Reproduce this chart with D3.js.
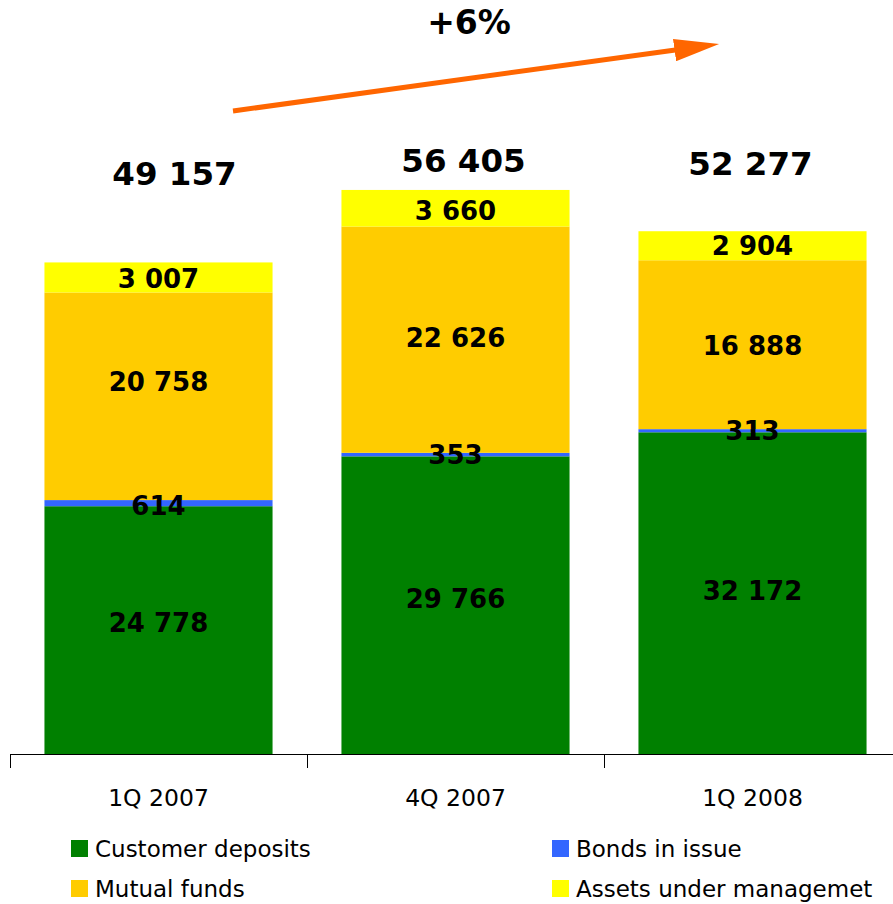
<!DOCTYPE html>
<html>
<head>
<meta charset="utf-8">
<script src="https://cdn.jsdelivr.net/npm/d3@7"></script>
<style>
  html, body { margin: 0; padding: 0; background: #fff; }
  svg { display: block; font-family: "DejaVu Sans", Verdana, sans-serif; }
</style>
</head>
<body>
<svg id="chart" width="893" height="904"></svg>
<script>
// Quarters on the x axis
const quarters = ["1Q 2007", "4Q 2007", "1Q 2008"];

// Stacked series, bottom to top
const customerDeposits = [24778, 29766, 32172];
const bondsInIssue     = [614, 353, 313];
const mutualFunds      = [20758, 22626, 16888];
const assetsUnderMgmt  = [3007, 3660, 2904];

// Totals written above each bar
const totals = [49157, 56405, 52277];

const seriesNames = ["Customer deposits", "Bonds in issue", "Mutual funds", "Assets under managemet"];
const seriesColors = ["#008000", "#3366FF", "#FFCC00", "#FFFF00"];

const growthLabel = "+6%";

const svg = d3.select("#chart");
const W = 893, H = 904;
const baseY = 754;

const x = d3.scaleBand()
  .domain(quarters)
  .range([10, 901])
  .paddingInner(0.232)
  .paddingOuter(0.116);

const y = d3.scaleLinear()
  .domain([0, 75400])
  .range([baseY, 0]);

const rows = quarters.map((q, i) => ({
  q,
  s0: customerDeposits[i],
  s1: bondsInIssue[i],
  s2: mutualFunds[i],
  s3: assetsUnderMgmt[i]
}));

const stack = d3.stack().keys(["s0", "s1", "s2", "s3"]);
const layers = stack(rows);

const fmt = v => d3.format(",")(v).replace(/,/g, " ");

// Vertical nudges for the in-bar labels (px), per series then per bar
const labelNudge = [
  [-7, -7, -3],
  [2, 0, 0],
  [-15, -2, 1],
  [1, 2, 0]
];

// Bars
const g = svg.append("g");
layers.forEach((layer, li) => {
  g.selectAll(null)
    .data(layer)
    .join("rect")
    .attr("x", d => x(d.data.q))
    .attr("width", x.bandwidth())
    .attr("y", d => y(d[1]))
    .attr("height", d => y(d[0]) - y(d[1]))
    .attr("fill", seriesColors[li]);
});

// Segment value labels
layers.forEach((layer, li) => {
  g.selectAll(null)
    .data(layer)
    .join("text")
    .attr("x", d => x(d.data.q) + x.bandwidth() / 2)
    .attr("y", (d, i) => (y(d[0]) + y(d[1])) / 2 + labelNudge[li][i])
    .attr("dy", "0.36em")
    .attr("text-anchor", "middle")
    .attr("font-size", 26)
    .attr("font-weight", "bold")
    .attr("fill", "#000")
    .text(d => fmt(d[1] - d[0]));
});

// Totals above the bars
const totalLift = [89, 30, 68];
const totalShiftX = [16, 8, -2];
g.selectAll(null)
  .data(quarters)
  .join("text")
  .attr("x", (q, i) => x(q) + x.bandwidth() / 2 + totalShiftX[i])
  .attr("y", (q, i) => y(totals[i]) - totalLift[i])
  .attr("dy", "0.36em")
  .attr("text-anchor", "middle")
  .attr("font-size", 32.5)
  .attr("font-weight", "bold")
  .attr("fill", "#000")
  .text((q, i) => fmt(totals[i]));

// Category axis: baseline with ticks at band boundaries
const step = x.step();
const x0 = x.range()[0];
const bounds = d3.range(quarters.length + 1).map(i => x0 + i * step);
const axis = svg.append("g");
axis.append("line")
  .attr("x1", x0).attr("x2", W + 10)
  .attr("y1", baseY + 0.5).attr("y2", baseY + 0.5)
  .attr("stroke", "#000").attr("stroke-width", 1);
axis.selectAll(null)
  .data(bounds)
  .join("line")
  .attr("x1", d => Math.round(d) + 0.5).attr("x2", d => Math.round(d) + 0.5)
  .attr("y1", baseY).attr("y2", baseY + 14)
  .attr("stroke", "#000").attr("stroke-width", 1);
axis.selectAll(null)
  .data(quarters)
  .join("text")
  .attr("x", q => x(q) + x.bandwidth() / 2)
  .attr("y", 806)
  .attr("text-anchor", "middle")
  .attr("font-size", 23.5)
  .attr("fill", "#000")
  .text(q => q);

// Growth arrow and label
const defs = svg.append("defs");
defs.append("marker")
  .attr("id", "head")
  .attr("viewBox", "0 0 20 10")
  .attr("refX", 2).attr("refY", 5)
  .attr("markerWidth", 9).attr("markerHeight", 4.5)
  .attr("markerUnits", "strokeWidth")
  .attr("orient", "auto")
  .append("path")
  .attr("d", "M0,0 L20,5 L0,10 Z")
  .attr("fill", "#FF6600");

svg.append("line")
  .attr("x1", 233).attr("y1", 111)
  .attr("x2", 679).attr("y2", 49.5)
  .attr("stroke", "#FF6600")
  .attr("stroke-width", 5)
  .attr("marker-end", "url(#head)");

svg.append("text")
  .attr("x", 469).attr("y", 22)
  .attr("dy", "0.36em")
  .attr("text-anchor", "middle")
  .attr("font-size", 33)
  .attr("font-weight", "bold")
  .attr("fill", "#000")
  .text(growthLabel);

// Legend in two columns
const legendPos = [
  { x: 71, y: 849 },
  { x: 552, y: 849 },
  { x: 71, y: 889 },
  { x: 552, y: 889 }
];
const legend = svg.append("g");
seriesNames.forEach((name, i) => {
  const p = legendPos[i];
  legend.append("rect")
    .attr("x", p.x).attr("y", p.y - 9)
    .attr("width", 17).attr("height", 17)
    .attr("fill", seriesColors[i]);
  legend.append("text")
    .attr("x", p.x + 24).attr("y", p.y)
    .attr("dy", "0.36em")
    .attr("font-size", 23)
    .attr("fill", "#000")
    .text(name);
});
</script>
</body>
</html>
